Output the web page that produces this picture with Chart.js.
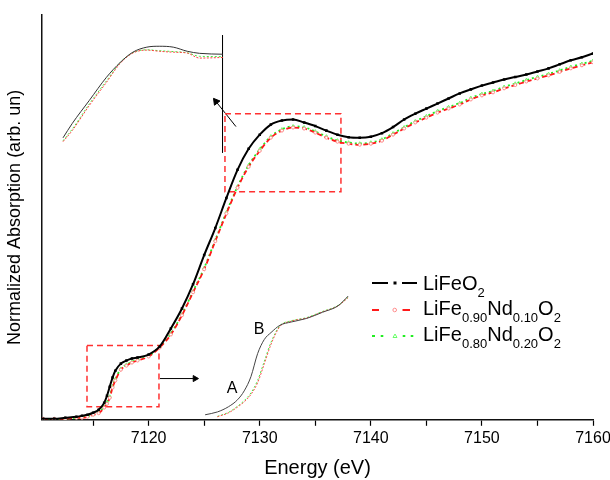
<!DOCTYPE html>
<html>
<head>
<meta charset="utf-8">
<script src="https://cdn.jsdelivr.net/npm/chart.js@4.4.1/dist/chart.umd.min.js"></script>
<style>
  html, body { margin: 0; padding: 0; background: #fff; }
  #wrap { position: relative; width: 610px; height: 480px; }
  #legend { position: absolute; left: 0; top: 0; font-family: "Liberation Sans", Arial, sans-serif; color: #000; }
  #legend svg { position: absolute; left: 372px; }
  #legend .txt { position: absolute; left: 423px; font-size: 20px; line-height: 20px; white-space: nowrap; }
  #legend sub { font-size: 13px; vertical-align: -7px; line-height: 0; }
</style>
</head>
<body>
<div id="wrap">
  <canvas id="chart" width="610" height="480"></canvas>
  <div id="legend"></div>
</div>
<script>
// Fe K-edge XANES spectra
const energy = [7110.5, 7111.5, 7112.5, 7113.5, 7114, 7114.5, 7115, 7115.5, 7116, 7116.25, 7116.5, 7116.75, 7117, 7117.5, 7118, 7118.5, 7119,
  7120, 7121, 7122, 7123, 7124, 7125, 7126, 7127, 7128, 7129, 7130, 7131, 7132, 7133, 7134, 7135, 7136, 7137, 7138, 7139,
  7140, 7141, 7142, 7143, 7144, 7145, 7146, 7147, 7148, 7149, 7150, 7151, 7152, 7153, 7154, 7155, 7156, 7157, 7158, 7159, 7160];

const liFeO2 = [0.004, 0.004, 0.008, 0.012, 0.016, 0.020, 0.028, 0.040, 0.067, 0.095, 0.131, 0.167, 0.194, 0.222, 0.234, 0.242, 0.246,
  0.258, 0.290, 0.361, 0.440, 0.536, 0.651, 0.758, 0.877, 0.988, 1.071, 1.127, 1.167, 1.183, 1.187, 1.175, 1.161, 1.143, 1.127, 1.117, 1.115,
  1.119, 1.133, 1.157, 1.187, 1.210, 1.230, 1.250, 1.270, 1.290, 1.306, 1.321, 1.333, 1.345, 1.355, 1.365, 1.377, 1.389, 1.405, 1.421, 1.433, 1.448];

const nd10 = [0.004, 0.004, 0.004, 0.008, 0.008, 0.012, 0.020, 0.026, 0.048, 0.063, 0.087, 0.127, 0.155, 0.198, 0.214, 0.226, 0.234,
  0.250, 0.286, 0.337, 0.413, 0.504, 0.595, 0.706, 0.815, 0.917, 1.000, 1.063, 1.115, 1.143, 1.155, 1.151, 1.135, 1.115, 1.099, 1.091, 1.087,
  1.091, 1.103, 1.127, 1.151, 1.175, 1.194, 1.214, 1.230, 1.246, 1.266, 1.282, 1.294, 1.310, 1.323, 1.337, 1.349, 1.361, 1.375, 1.389, 1.401, 1.413];

const nd20 = [0.004, 0.004, 0.004, 0.008, 0.010, 0.014, 0.020, 0.030, 0.052, 0.068, 0.092, 0.133, 0.160, 0.202, 0.218, 0.229, 0.237,
  0.253, 0.289, 0.341, 0.417, 0.508, 0.600, 0.711, 0.820, 0.922, 1.006, 1.069, 1.120, 1.148, 1.160, 1.156, 1.140, 1.120, 1.104, 1.096, 1.092,
  1.096, 1.108, 1.132, 1.156, 1.180, 1.200, 1.220, 1.236, 1.252, 1.272, 1.288, 1.300, 1.316, 1.329, 1.343, 1.355, 1.367, 1.381, 1.395, 1.407, 1.419];

// Magnified view of the white-line region (upper inset)
const energyWL = [7127.0, 7127.6, 7128.7, 7129.8, 7130.7, 7131.5, 7132.4, 7133.2, 7134.1, 7135.0, 7135.8, 7137.3];
const liFeO2WL = [0.880, 0.929, 1.007, 1.085, 1.136, 1.170, 1.187, 1.190, 1.187, 1.173, 1.166, 1.163];
const nd10WL   = [0.867, 0.905, 0.990, 1.068, 1.133, 1.167, 1.177, 1.173, 1.170, 1.167, 1.150, 1.152];
const nd20WL   = [0.870, 0.910, 0.995, 1.073, 1.136, 1.168, 1.178, 1.175, 1.172, 1.168, 1.156, 1.155];

// Magnified view of the pre-edge region (lower inset)
const energyPE = [7114.45, 7115.0, 7115.5, 7115.9, 7116.2, 7116.5, 7116.8, 7117.1, 7117.4, 7117.8, 7118.3, 7119.0, 7119.7, 7120.4, 7120.85];
const liFeO2PE = [0.009, 0.016, 0.029, 0.046, 0.068, 0.103, 0.160, 0.195, 0.212, 0.230, 0.238, 0.247, 0.262, 0.278, 0.302];
const nd10PE   = [null, 0.004, 0.014, 0.028, 0.041, 0.059, 0.088, 0.135, 0.183, 0.227, 0.240, 0.248, 0.263, 0.278, 0.298];
const nd20PE   = [null, 0.005, 0.015, 0.030, 0.044, 0.063, 0.094, 0.141, 0.188, 0.229, 0.241, 0.249, 0.264, 0.279, 0.299];

// Zoom boxes, pointer arrows and separator (main axis units)
const boxWL = { e: [7126.87, 7137.31, 7137.31, 7126.87, 7126.87], a: [1.210, 1.210, 0.901, 0.901, 1.210] };
const boxPE = { e: [7114.45, 7120.93, 7120.93, 7114.45, 7114.45], a: [0.294, 0.294, 0.052, 0.052, 0.294] };
const arrowWL = { e: [7127.86, 7126.06], a: [1.159, 1.258] };
const arrowPE = { e: [7121.02, 7124.17], a: [0.163, 0.163] };
const separator = { e: [7126.65, 7126.65], a: [1.520, 1.056] };

// Peak labels in the pre-edge inset
const peakLabels = [
  { text: 'A', e: 7115.66, a: 0.073 },
  { text: 'B', e: 7116.87, a: 0.220 }
];

const seriesLabels = ['LiFeO2', 'LiFe0.90Nd0.10O2', 'LiFe0.80Nd0.20O2'];
const seriesMarkup = ['LiFeO<sub>2</sub>', 'LiFe<sub>0.90</sub>Nd<sub>0.10</sub>O<sub>2</sub>', 'LiFe<sub>0.80</sub>Nd<sub>0.20</sub>O<sub>2</sub>'];

const FONT = '"Liberation Sans", Arial, sans-serif';

function pts(xs, ys) {
  return xs.map((x, i) => ({ x: x, y: ys[i] }));
}

function guide(xs, ys, color, dash, width, extra) {
  return Object.assign({
    data: pts(xs, ys),
    borderColor: color,
    backgroundColor: color,
    borderWidth: width,
    borderDash: dash,
    pointRadius: 0,
    tension: 0,
    fill: false
  }, extra || {});
}

const datasets = [
  {
    label: seriesLabels[0], data: pts(energy, liFeO2),
    borderColor: '#000', borderWidth: 2, cubicInterpolationMode: 'monotone',
    pointStyle: 'rect', pointRadius: 1.8, pointBackgroundColor: '#000', pointBorderColor: '#000', pointBorderWidth: 0
  },
  {
    label: seriesLabels[1], data: pts(energy, nd10),
    borderColor: '#ff1a1a', borderWidth: 1.8, borderDash: [5, 3], cubicInterpolationMode: 'monotone',
    pointStyle: 'circle', pointRadius: 1.5, pointBackgroundColor: '#fff', pointBorderColor: '#ff8c8c', pointBorderWidth: 1
  },
  {
    label: seriesLabels[2], data: pts(energy, nd20),
    borderColor: '#22ee22', borderWidth: 1.8, borderDash: [2, 3], cubicInterpolationMode: 'monotone',
    pointStyle: 'triangle', pointRadius: 1.8, pointBackgroundColor: '#fff', pointBorderColor: '#66ff66', pointBorderWidth: 1
  },
  // upper inset
  guide(energyWL, liFeO2WL, '#333', [], 1, { xAxisID: 'xWL', yAxisID: 'yWL', cubicInterpolationMode: 'monotone' }),
  guide(energyWL, nd10WL, '#ff4040', [2, 1.5], 1, { xAxisID: 'xWL', yAxisID: 'yWL', cubicInterpolationMode: 'monotone' }),
  guide(energyWL, nd20WL, '#44ee44', [2, 2], 1, { xAxisID: 'xWL', yAxisID: 'yWL', cubicInterpolationMode: 'monotone' }),
  // lower inset
  guide(energyPE, liFeO2PE, '#444', [], 1, { xAxisID: 'xPE', yAxisID: 'yPE', cubicInterpolationMode: 'monotone' }),
  guide(energyPE, nd10PE, '#ff5050', [2, 1.5], 1, { xAxisID: 'xPE', yAxisID: 'yPE', cubicInterpolationMode: 'monotone' }),
  guide(energyPE, nd20PE, '#44ee44', [2, 2], 1, { xAxisID: 'xPE', yAxisID: 'yPE', cubicInterpolationMode: 'monotone' }),
  // zoom boxes
  guide(boxWL.e, boxWL.a, '#ff3030', [6, 4], 1.5),
  guide(boxPE.e, boxPE.a, '#ff3030', [6, 4], 1.5),
  // arrows and separator
  guide(arrowWL.e, arrowWL.a, '#000', [], 1, { pointStyle: 'triangle', pointRadius: [0, 4], rotation: -38, pointBackgroundColor: '#000', pointBorderColor: '#000' }),
  guide(arrowPE.e, arrowPE.a, '#000', [], 1, { pointStyle: 'triangle', pointRadius: [0, 3.5], rotation: 90, pointBackgroundColor: '#000', pointBorderColor: '#000' }),
  guide(separator.e, separator.a, '#000', [], 1)
];

const peakLabelPlugin = {
  id: 'peakLabels',
  afterDatasetsDraw(chart) {
    const ctx = chart.ctx;
    const xs = chart.scales.xPE, ys = chart.scales.yPE;
    ctx.save();
    ctx.font = '16px ' + FONT;
    ctx.fillStyle = '#000';
    ctx.textAlign = 'center';
    ctx.textBaseline = 'middle';
    peakLabels.forEach(p => ctx.fillText(p.text, xs.getPixelForValue(p.e), ys.getPixelForValue(p.a)));
    ctx.restore();
  }
};

new Chart(document.getElementById('chart'), {
  type: 'line',
  data: { datasets: datasets },
  plugins: [peakLabelPlugin],
  options: {
    responsive: false,
    animation: false,
    devicePixelRatio: 1,
    layout: { padding: { left: 4, right: 17, top: 15, bottom: 0 } },
    plugins: { legend: { display: false }, tooltip: { enabled: false } },
    elements: { line: { fill: false } },
    scales: {
      x: {
        type: 'linear', position: 'bottom', min: 7110.4, max: 7160,
        // the last tick label may hang into the right margin
        afterFit: scale => { scale.paddingRight = 0; },
        ticks: {
          stepSize: 5, includeBounds: false, autoSkip: false, maxRotation: 0, padding: 3,
          color: '#000', font: { family: FONT, size: 16 },
          callback: v => (v % 10 === 0 ? String(v) : '')
        },
        grid: { display: true, drawOnChartArea: false, drawTicks: true, tickLength: 6, tickColor: '#000', tickWidth: 1.2 },
        border: { display: true, color: '#111', width: 1.5 },
        title: { display: true, text: 'Energy (eV)', color: '#000', font: { family: FONT, size: 20 }, padding: { top: 5, bottom: 0 } }
      },
      y: {
        type: 'linear', position: 'left', min: 0, max: 1.6,
        ticks: { display: false },
        grid: { display: false, drawTicks: false },
        border: { display: true, color: '#111', width: 1.5 },
        title: { display: true, text: 'Normalized Absorption (arb. un)', color: '#000', font: { family: FONT, size: 18 }, padding: { top: 0, bottom: 16.4 } }
      },
      xWL: { type: 'linear', axis: 'x', display: false, min: 7125.648, max: 7161.13 },
      yWL: { type: 'linear', axis: 'y', display: false, min: -0.0744, max: 1.2958 },
      xPE: { type: 'linear', axis: 'x', display: false, min: 7107.15, max: 7131.81 },
      yPE: { type: 'linear', axis: 'y', display: false, min: -0.0034, max: 0.996 }
    }
  }
});

// Legend with chemical subscripts
(function buildLegend() {
  const legend = document.getElementById('legend');
  const rowLine = [283, 309.5, 336];
  const rowTop = [272.5, 297.5, 324];
  const samples = [
    '<line x1="0" y1="5" x2="16" y2="5" stroke="#000" stroke-width="2"/>' +
    '<rect x="21.5" y="3.5" width="3" height="3" fill="#000"/>' +
    '<line x1="30" y1="5" x2="45" y2="5" stroke="#000" stroke-width="2"/>',
    '<line x1="0" y1="5" x2="7" y2="5" stroke="#ff1a1a" stroke-width="2"/>' +
    '<circle cx="22.7" cy="5" r="1.8" fill="#fff" stroke="#ff8c8c" stroke-width="1"/>' +
    '<line x1="30.5" y1="5" x2="38" y2="5" stroke="#ff1a1a" stroke-width="2"/>',
    '<line x1="0" y1="5" x2="3" y2="5" stroke="#22ee22" stroke-width="2"/>' +
    '<line x1="8.7" y1="5" x2="11.3" y2="5" stroke="#22ee22" stroke-width="2"/>' +
    '<polygon points="23,3 25,6.5 21,6.5" fill="#fff" stroke="#66ff66" stroke-width="1"/>' +
    '<line x1="30.7" y1="5" x2="33.3" y2="5" stroke="#22ee22" stroke-width="2"/>' +
    '<line x1="38.7" y1="5" x2="41.3" y2="5" stroke="#22ee22" stroke-width="2"/>'
  ];
  let html = '';
  seriesMarkup.forEach((m, i) => {
    html += '<svg width="46" height="10" style="top:' + (rowLine[i] - 5) + 'px">' + samples[i] + '</svg>';
    html += '<div class="txt" style="top:' + rowTop[i] + 'px">' + m + '</div>';
  });
  legend.innerHTML = html;
})();
</script>
</body>
</html>
